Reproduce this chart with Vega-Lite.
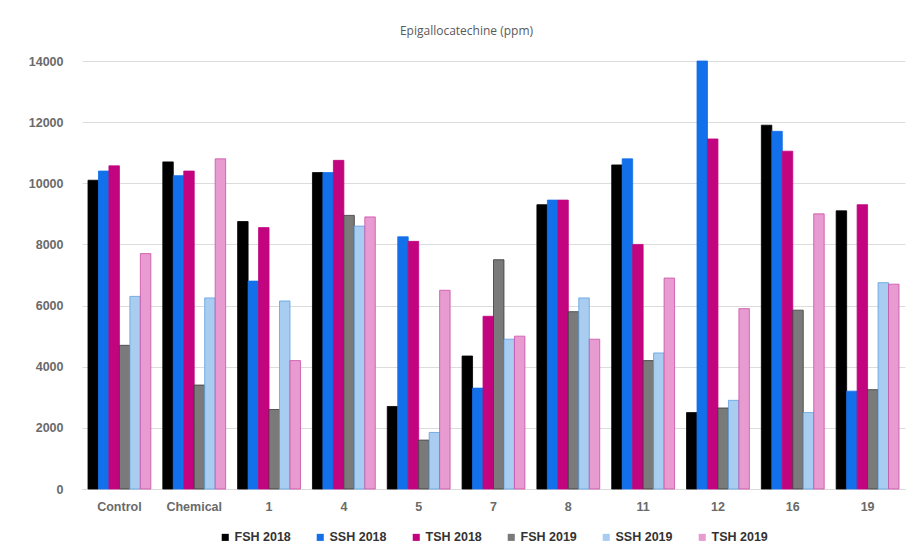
{
  "$schema": "https://vega.github.io/schema/vega-lite/v6.json",
  "width": 823,
  "height": 428,
  "autosize": {"type": "none"},
  "padding": {"left": 82, "top": 61, "right": 12, "bottom": 59},
  "background": "white",
  "title": {
    "text": "Epigallocatechine (ppm)",
    "fontSize": 12,
    "font": "Open Sans",
    "fontWeight": "normal",
    "color": "#595959",
    "anchor": "middle",
    "dx": -27,
    "offset": 17
  },
  "datasets": {
    "d": [
      {"cat": "Control", "series": "FSH 2018", "value": 10100},
      {"cat": "Control", "series": "SSH 2018", "value": 10400},
      {"cat": "Control", "series": "TSH 2018", "value": 10570},
      {"cat": "Control", "series": "FSH 2019", "value": 4700},
      {"cat": "Control", "series": "SSH 2019", "value": 6300},
      {"cat": "Control", "series": "TSH 2019", "value": 7700},
      {"cat": "Chemical", "series": "FSH 2018", "value": 10700},
      {"cat": "Chemical", "series": "SSH 2018", "value": 10250},
      {"cat": "Chemical", "series": "TSH 2018", "value": 10400},
      {"cat": "Chemical", "series": "FSH 2019", "value": 3400},
      {"cat": "Chemical", "series": "SSH 2019", "value": 6250},
      {"cat": "Chemical", "series": "TSH 2019", "value": 10800},
      {"cat": "1", "series": "FSH 2018", "value": 8750},
      {"cat": "1", "series": "SSH 2018", "value": 6800},
      {"cat": "1", "series": "TSH 2018", "value": 8550},
      {"cat": "1", "series": "FSH 2019", "value": 2600},
      {"cat": "1", "series": "SSH 2019", "value": 6150},
      {"cat": "1", "series": "TSH 2019", "value": 4200},
      {"cat": "4", "series": "FSH 2018", "value": 10350},
      {"cat": "4", "series": "SSH 2018", "value": 10350},
      {"cat": "4", "series": "TSH 2018", "value": 10750},
      {"cat": "4", "series": "FSH 2019", "value": 8950},
      {"cat": "4", "series": "SSH 2019", "value": 8600},
      {"cat": "4", "series": "TSH 2019", "value": 8900},
      {"cat": "5", "series": "FSH 2018", "value": 2700},
      {"cat": "5", "series": "SSH 2018", "value": 8250},
      {"cat": "5", "series": "TSH 2018", "value": 8100},
      {"cat": "5", "series": "FSH 2019", "value": 1600},
      {"cat": "5", "series": "SSH 2019", "value": 1850},
      {"cat": "5", "series": "TSH 2019", "value": 6500},
      {"cat": "7", "series": "FSH 2018", "value": 4350},
      {"cat": "7", "series": "SSH 2018", "value": 3300},
      {"cat": "7", "series": "TSH 2018", "value": 5650},
      {"cat": "7", "series": "FSH 2019", "value": 7500},
      {"cat": "7", "series": "SSH 2019", "value": 4900},
      {"cat": "7", "series": "TSH 2019", "value": 5000},
      {"cat": "8", "series": "FSH 2018", "value": 9300},
      {"cat": "8", "series": "SSH 2018", "value": 9450},
      {"cat": "8", "series": "TSH 2018", "value": 9450},
      {"cat": "8", "series": "FSH 2019", "value": 5800},
      {"cat": "8", "series": "SSH 2019", "value": 6250},
      {"cat": "8", "series": "TSH 2019", "value": 4900},
      {"cat": "11", "series": "FSH 2018", "value": 10600},
      {"cat": "11", "series": "SSH 2018", "value": 10800},
      {"cat": "11", "series": "TSH 2018", "value": 8000},
      {"cat": "11", "series": "FSH 2019", "value": 4200},
      {"cat": "11", "series": "SSH 2019", "value": 4450},
      {"cat": "11", "series": "TSH 2019", "value": 6900},
      {"cat": "12", "series": "FSH 2018", "value": 2500},
      {"cat": "12", "series": "SSH 2018", "value": 14000},
      {"cat": "12", "series": "TSH 2018", "value": 11450},
      {"cat": "12", "series": "FSH 2019", "value": 2650},
      {"cat": "12", "series": "SSH 2019", "value": 2900},
      {"cat": "12", "series": "TSH 2019", "value": 5900},
      {"cat": "16", "series": "FSH 2018", "value": 11900},
      {"cat": "16", "series": "SSH 2018", "value": 11700},
      {"cat": "16", "series": "TSH 2018", "value": 11050},
      {"cat": "16", "series": "FSH 2019", "value": 5850},
      {"cat": "16", "series": "SSH 2019", "value": 2500},
      {"cat": "16", "series": "TSH 2019", "value": 9000},
      {"cat": "19", "series": "FSH 2018", "value": 9100},
      {"cat": "19", "series": "SSH 2018", "value": 3200},
      {"cat": "19", "series": "TSH 2018", "value": 9300},
      {"cat": "19", "series": "FSH 2019", "value": 3250},
      {"cat": "19", "series": "SSH 2019", "value": 6750},
      {"cat": "19", "series": "TSH 2019", "value": 6700}
    ]
  },
  "data": {"name": "d"},
  "mark": {"type": "bar", "strokeWidth": 0.8},
  "encoding": {
    "x": {
      "field": "cat",
      "type": "nominal",
      "sort": ["Control", "Chemical", "1", "4", "5", "7", "8", "11", "12", "16", "19"],
      "scale": {"paddingInner": 0.16, "paddingOuter": 0.08},
      "axis": {
        "title": null,
        "labelAngle": 0,
        "ticks": false,
        "domain": true,
        "domainColor": "#d9d9d9",
        "labelPadding": 11,
        "labelFontSize": 12.5,
        "labelFont": "Liberation Sans",
        "labelFontWeight": "bold",
        "labelColor": "#6a6a6a"
      }
    },
    "xOffset": {
      "field": "series",
      "type": "nominal",
      "sort": ["FSH 2018", "SSH 2018", "TSH 2018", "FSH 2019", "SSH 2019", "TSH 2019"],
      "scale": {"paddingInner": 0}
    },
    "y": {
      "field": "value",
      "type": "quantitative",
      "scale": {"domain": [0, 14000], "nice": false},
      "axis": {
        "title": null,
        "values": [0, 2000, 4000, 6000, 8000, 10000, 12000, 14000],
        "format": "d",
        "domain": false,
        "ticks": false,
        "gridColor": "#dcdcdc",
        "labelPadding": 19,
        "labelFontSize": 12.5,
        "labelFont": "Liberation Sans",
        "labelFontWeight": "bold",
        "labelColor": "#6a6a6a"
      }
    },
    "color": {
      "field": "series",
      "type": "nominal",
      "sort": ["FSH 2018", "SSH 2018", "TSH 2018", "FSH 2019", "SSH 2019", "TSH 2019"],
      "scale": {
        "domain": ["FSH 2018", "SSH 2018", "TSH 2018", "FSH 2019", "SSH 2019", "TSH 2019"],
        "range": ["#000000", "#1170ea", "#c2047e", "#7a7a7a", "#a9cdf0", "#e79bd1"]
      },
      "legend": {
        "title": null,
        "orient": "bottom",
        "direction": "horizontal",
        "symbolType": "square",
        "symbolSize": 50,
        "symbolStrokeWidth": 0,
        "labelFontSize": 12.5,
        "labelFont": "Liberation Sans",
        "labelFontWeight": "bold",
        "labelColor": "#333333",
        "labelOffset": 3,
        "columnPadding": 23,
        "offset": 18
      }
    },
    "stroke": {
      "field": "series",
      "type": "nominal",
      "scale": {
        "domain": ["FSH 2018", "SSH 2018", "TSH 2018", "FSH 2019", "SSH 2019", "TSH 2019"],
        "range": ["#000000", "#1170ea", "#c2047e", "#3a3a3a", "#5e9fe0", "#cc4fa6"]
      },
      "legend": null
    }
  },
  "config": {
    "view": {"stroke": null},
    "legend": {"layout": {"anchor": "middle"}}
  }
}
